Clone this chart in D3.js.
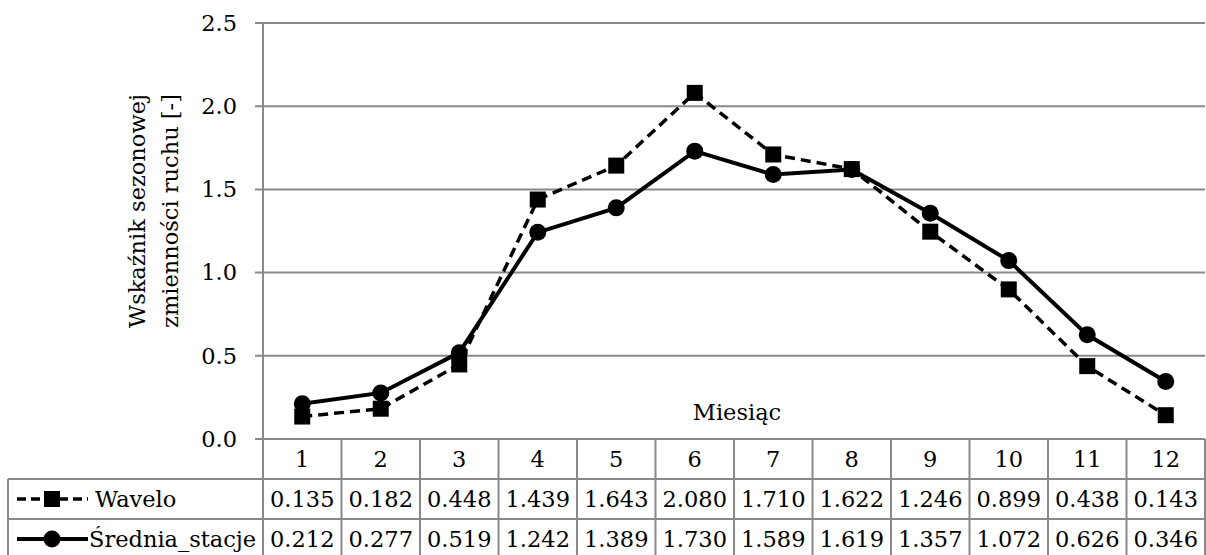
<!DOCTYPE html>
<html>
<head>
<meta charset="utf-8">
<script src="https://cdn.jsdelivr.net/npm/d3@7"></script>
<style>
  body { margin: 0; background: #fff; }
  svg text { font-family: "DejaVu Serif", "Liberation Serif", serif; font-size: 22.5px; fill: #000; }
</style>
</head>
<body>
<div id="chart"></div>
<script>
var months = ["1", "2", "3", "4", "5", "6", "7", "8", "9", "10", "11", "12"];
var wavelo = [0.135, 0.182, 0.448, 1.439, 1.643, 2.080, 1.710, 1.622, 1.246, 0.899, 0.438, 0.143];
var srednia = [0.212, 0.277, 0.519, 1.242, 1.389, 1.730, 1.589, 1.619, 1.357, 1.072, 0.626, 0.346];
var yTicks = [0.0, 0.5, 1.0, 1.5, 2.0, 2.5];
var seriesNames = ["Wavelo", "Średnia_stacje"];

var _width = 1206, _height = 555,
  _plot = {left: 263, right: 1205, top: 23, bottom: 439},
  _tableLeft = 8,
  _rowH = 40,
  _grid = "#898989";

var svg = d3.select("#chart").append("svg")
  .attr("width", _width)
  .attr("height", _height);

var x = d3.scaleBand()
  .domain(months)
  .range([_plot.left, _plot.right])
  .padding(0);

var y = d3.scaleLinear()
  .domain([0, 2.5])
  .range([_plot.bottom, _plot.top]);

// gridlines
svg.append("g").attr("class", "grid")
  .selectAll("line")
  .data(yTicks)
  .enter().append("line")
  .attr("x1", _plot.left - 8)
  .attr("x2", _plot.right)
  .attr("y1", function (d) { return y(d); })
  .attr("y2", function (d) { return y(d); })
  .attr("stroke", _grid)
  .attr("stroke-width", 2);

// y axis labels
var yAxis = d3.axisLeft(y)
  .tickValues(yTicks)
  .tickSize(0)
  .tickPadding(26)
  .tickFormat(d3.format(".1f"));

var yG = svg.append("g")
  .attr("transform", "translate(" + _plot.left + ",0)")
  .call(yAxis);
yG.select(".domain").remove();
yG.selectAll("text")
  .attr("font-family", null)
  .attr("font-size", null);

// axis titles
var yTitle = svg.append("text")
  .attr("transform", "translate(145,211) rotate(-90)")
  .attr("text-anchor", "middle");
yTitle.append("tspan").attr("x", 0).attr("dy", 0).text("Wskaźnik sezonowej");
yTitle.append("tspan").attr("x", 0).attr("dy", 33).text("zmienności ruchu [-]");

svg.append("text")
  .attr("x", (_plot.left + _plot.right) / 2 + 3)
  .attr("y", 420)
  .attr("text-anchor", "middle")
  .text("Miesiąc");

// data table
var tableG = svg.append("g").attr("class", "table");
var rowTops = [_plot.bottom, _plot.bottom + _rowH, _plot.bottom + 2 * _rowH];
var tableBottom = _plot.bottom + 3 * _rowH;

tableG.selectAll("line.h")
  .data([rowTops[1], rowTops[2], tableBottom])
  .enter().append("line")
  .attr("class", "h")
  .attr("x1", _tableLeft)
  .attr("x2", _plot.right)
  .attr("y1", function (d) { return d; })
  .attr("y2", function (d) { return d; })
  .attr("stroke", _grid)
  .attr("stroke-width", 2);

var colEdges = months.map(function (m) { return x(m); }).concat([_plot.right]);
tableG.selectAll("line.v")
  .data(colEdges)
  .enter().append("line")
  .attr("class", "v")
  .attr("x1", function (d) { return d; })
  .attr("x2", function (d) { return d; })
  .attr("y1", function (d, i) { return i == 0 ? _plot.top : _plot.bottom; })
  .attr("y2", tableBottom)
  .attr("stroke", _grid)
  .attr("stroke-width", 2);

tableG.append("line")
  .attr("x1", _tableLeft).attr("x2", _tableLeft)
  .attr("y1", rowTops[1]).attr("y2", tableBottom)
  .attr("stroke", _grid)
  .attr("stroke-width", 2);

// header row
tableG.selectAll("text.month")
  .data(months)
  .enter().append("text")
  .attr("class", "month")
  .attr("x", function (d) { return x(d) + x.bandwidth() / 2; })
  .attr("y", rowTops[0] + _rowH / 2)
  .attr("dy", "0.35em")
  .attr("text-anchor", "middle")
  .text(function (d) { return d; });

[wavelo, srednia].forEach(function (vals, r) {
  tableG.selectAll("text.val" + r)
    .data(vals)
    .enter().append("text")
    .attr("class", "val" + r)
    .attr("x", function (d, i) { return x(months[i]) + x.bandwidth() / 2; })
    .attr("y", rowTops[r + 1] + _rowH / 2)
    .attr("dy", "0.35em")
    .attr("text-anchor", "middle")
    .text(function (d) { return d3.format(".3f")(d); });
});

// legend keys inside table
var dashes = "10,6";
var keyY0 = rowTops[1] + _rowH / 2, keyY1 = rowTops[2] + _rowH / 2;

tableG.append("line")
  .attr("x1", 17).attr("x2", 88)
  .attr("y1", keyY0).attr("y2", keyY0)
  .attr("stroke", "#000").attr("stroke-width", 3.5)
  .attr("stroke-dasharray", "9,5");
tableG.append("rect")
  .attr("x", 52 - 8).attr("y", keyY0 - 8)
  .attr("width", 16).attr("height", 16)
  .attr("fill", "#000");
tableG.append("line")
  .attr("x1", 17).attr("x2", 88)
  .attr("y1", keyY1).attr("y2", keyY1)
  .attr("stroke", "#000").attr("stroke-width", 4);
tableG.append("circle")
  .attr("cx", 52).attr("cy", keyY1)
  .attr("r", 8.5)
  .attr("fill", "#000");

tableG.selectAll("text.name")
  .data(seriesNames)
  .enter().append("text")
  .attr("class", "name")
  .attr("x", function (d, i) { return i == 0 ? 95 : 89; })
  .attr("y", function (d, i) { return rowTops[i + 1] + _rowH / 2; })
  .attr("dy", "0.35em")
  .text(function (d) { return d; });

// series lines
var line = d3.line()
  .x(function (d, i) { return x(months[i]) + x.bandwidth() / 2; })
  .y(function (d) { return y(d); });

svg.append("path")
  .datum(wavelo)
  .attr("d", line)
  .attr("fill", "none")
  .attr("stroke", "#000")
  .attr("stroke-width", 3.5)
  .attr("stroke-dasharray", dashes);

svg.append("path")
  .datum(srednia)
  .attr("d", line)
  .attr("fill", "none")
  .attr("stroke", "#000")
  .attr("stroke-width", 4);

svg.selectAll("rect.wavelo")
  .data(wavelo)
  .enter().append("rect")
  .attr("class", "wavelo")
  .attr("x", function (d, i) { return x(months[i]) + x.bandwidth() / 2 - 8; })
  .attr("y", function (d) { return y(d) - 8; })
  .attr("width", 16)
  .attr("height", 16)
  .attr("fill", "#000");

svg.selectAll("circle.srednia")
  .data(srednia)
  .enter().append("circle")
  .attr("class", "srednia")
  .attr("cx", function (d, i) { return x(months[i]) + x.bandwidth() / 2; })
  .attr("cy", function (d) { return y(d); })
  .attr("r", 8.5)
  .attr("fill", "#000");
</script>
</body>
</html>
